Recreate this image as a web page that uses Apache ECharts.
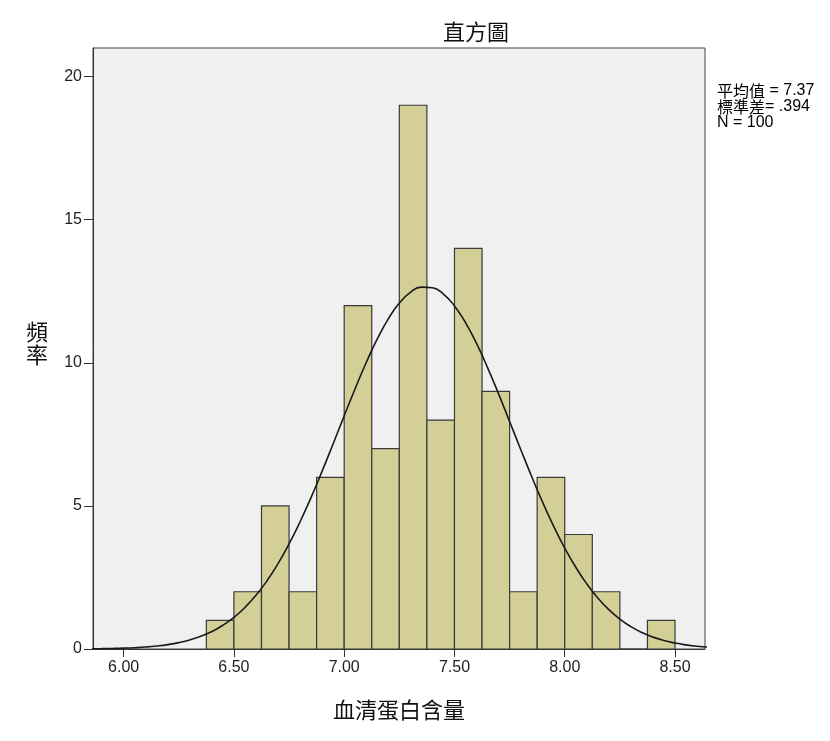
<!DOCTYPE html>
<html><head><meta charset="utf-8">
<script src="https://cdn.jsdelivr.net/npm/echarts@6/dist/echarts.min.js"></script>
<style>html,body{margin:0;padding:0;background:#fff}#c{width:830px;height:741px}</style>
</head><body><div id="c"></div>
<script>
// Histogram bins (start edges), bin width and counts
var binStarts = [6.375,6.5,6.625,6.75,6.875,7.0,7.125,7.25,7.375,7.5,7.625,7.75,7.875,8.0,8.125,8.25,8.375];
var binWidth = 0.125;
var counts = [1,2,5,2,6,12,7,19,8,14,9,2,6,4,2,0,1];
// Normal curve points
var curveX = [5.85,5.90,5.95,6.00,6.05,6.10,6.15,6.20,6.25,6.30,6.35,6.40,6.45,6.50,6.55,6.60,6.65,6.70,6.75,6.80,6.85,6.90,6.95,7.00,7.05,7.10,7.15,7.20,7.25,7.30,7.35,7.40,7.45,7.50,7.55,7.60,7.65,7.70,7.75,7.80,7.85,7.90,7.95,8.00,8.05,8.10,8.15,8.20,8.25,8.30,8.35,8.40,8.45,8.50,8.55,8.60,8.65];
var curveY = [0.007,0.012,0.019,0.030,0.046,0.070,0.105,0.154,0.223,0.317,0.444,0.611,0.829,1.106,1.452,1.875,2.384,2.981,3.670,4.446,5.299,6.215,7.173,8.147,9.104,10.010,10.833,11.535,12.087,12.462,12.644,12.623,12.402,11.989,11.405,10.676,9.834,8.915,7.952,6.979,6.027,5.123,4.284,3.526,2.855,2.275,1.784,1.376,1.045,0.781,0.574,0.415,0.296,0.207,0.143,0.097,0.065];
var xTicks = [6.0,6.5,7.0,7.5,8.0,8.5];
var yTicks = [0,5,10,15,20];
var statsLabels = ['平均值','標準差',''];
var statsValues = [' = 7.37','= .394','N = 100'];

var barData = binStarts.map(function(s,i){return [s, s+binWidth, counts[i]];});
var lineData = curveX.map(function(x,i){return [x, curveY[i]];});
var statsText = statsLabels.map(function(l,i){return (l ? '{a|'+l+'}' : '') + '{b|'+statsValues[i]+'}';}).join('\n');

var chart = echarts.init(document.getElementById('c'));
chart.setOption({
  animation:false,
  backgroundColor:'#ffffff',
  title:{text:'直方圖', left:471, top:16, textAlign:'center',
    textStyle:{fontFamily:'"Noto Sans CJK TC"', fontSize:22, fontWeight:'normal', color:'#111'}},
  grid:{left:93, right:125, top:48, bottom:92, show:true, backgroundColor:'#f0f0f0', borderColor:'#444', borderWidth:1},
  xAxis:{type:'value', min:5.861, max:8.636,
    axisLine:{show:true, onZero:false, lineStyle:{color:'#333'}},
    axisTick:{show:true, customValues:xTicks, length:8, lineStyle:{color:'#333'}},
    axisLabel:{customValues:xTicks, formatter:function(v){return v.toFixed(2);}, fontFamily:'"Liberation Sans"', fontSize:16, color:'#222', margin:11},
    splitLine:{show:false},
    name:'血清蛋白含量', nameLocation:'middle', nameGap:50,
    nameTextStyle:{fontFamily:'"Noto Sans CJK TC"', fontSize:22, color:'#111'}
  },
  yAxis:{type:'value', min:0, max:21,
    axisLine:{show:true, lineStyle:{color:'#333'}},
    axisTick:{show:true, customValues:yTicks, length:9, lineStyle:{color:'#333'}},
    axisLabel:{customValues:yTicks, fontFamily:'"Liberation Sans"', fontSize:16, color:'#222', margin:11},
    splitLine:{show:false}
  },
  graphic:[
    {type:'text', left:26, top:320, style:{text:'頻\n率', font:'22px "Noto Sans CJK TC"', fill:'#111', lineHeight:23}},
    {type:'text', left:717, top:83, style:{text:statsText, lineHeight:16,
      rich:{a:{fontFamily:'"Noto Sans CJK TC"', fontSize:16, color:'#666', lineHeight:16},
            b:{fontFamily:'"Liberation Sans"', fontSize:16, color:'#222', lineHeight:16}}}}
  ],
  series:[
    {type:'custom', data:barData, z:2,
      renderItem:function(params, api){
        var p1 = api.coord([api.value(0), api.value(2)]);
        var p2 = api.coord([api.value(1), 0]);
        return {type:'rect', shape:{x:p1[0], y:p1[1], width:p2[0]-p1[0], height:p2[1]-p1[1]},
          style:{fill:'#d3cf97', stroke:'#3a3a3a', lineWidth:1.2}};
      }},
    {type:'line', data:lineData, smooth:true, showSymbol:false, z:5,
      lineStyle:{color:'#1a1a1a', width:1.6}}
  ]
});
</script></body></html>
